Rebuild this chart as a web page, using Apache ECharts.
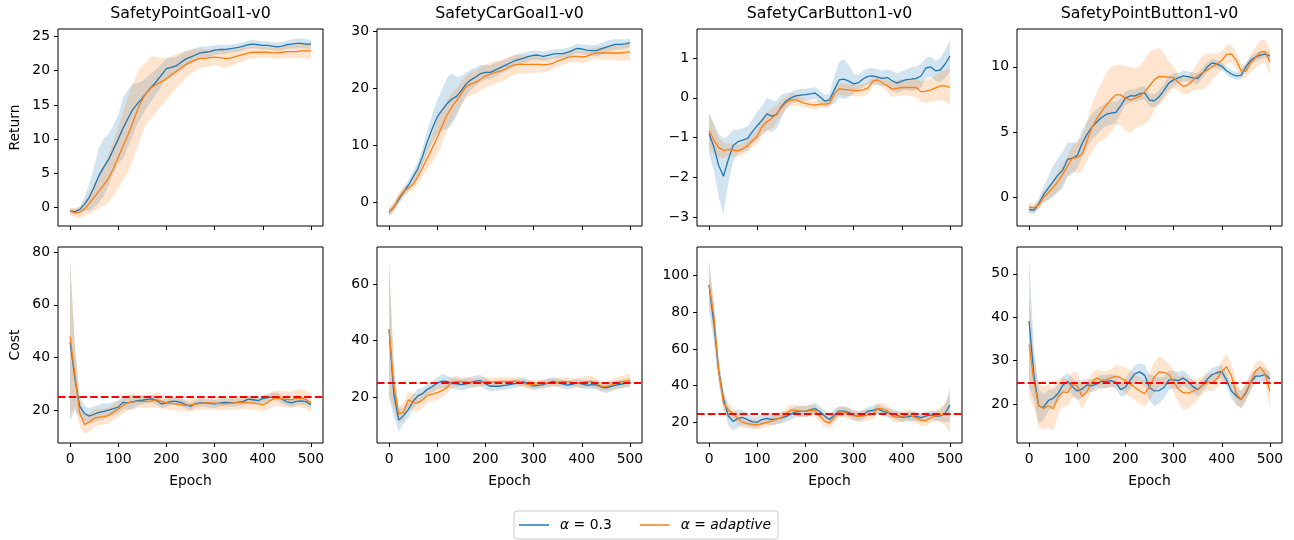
<!DOCTYPE html>
<html lang="en">

<head>
    <meta charset="UTF-8">
    <title>Safety Gym alpha comparison</title>
    <script src="https://cdn.jsdelivr.net/npm/echarts@6.0.0/dist/echarts.min.js"></script>
    <style>
        body { margin: 0; background: #fff; }
    </style>
</head>

<body>
    <div id="chart" style="width: 1294px; height: 540px;"></div>
    <script>
        // epochs sampled every 10
        const epochs = [0, 10, 20, 30, 40, 50, 60, 70, 80, 90, 100, 110, 120, 130, 140, 150, 160, 170, 180, 190,
            200, 210, 220, 230, 240, 250, 260, 270, 280, 290, 300, 310, 320, 330, 340, 350, 360, 370, 380, 390,
            400, 410, 420, 430, 440, 450, 460, 470, 480, 490, 500];
        const titles = ['SafetyPointGoal1-v0', 'SafetyCarGoal1-v0', 'SafetyCarButton1-v0', 'SafetyPointButton1-v0'];
        const xTicks = [0, 100, 200, 300, 400, 500];
        const costLimit = 25;

        // SafetyPointGoal1 - return
        const pgRet03 = [-0.5, -0.6, -0.3, 0.5, 1.5, 3.0, 4.7, 5.9, 7.0, 8.5,
            10.0, 11.6, 13.0, 14.3, 15.2, 16.0, 16.9, 17.7, 18.5, 19.4,
            20.3, 20.5, 20.7, 21.2, 21.7, 22.0, 22.3, 22.6, 22.7, 22.8,
            23.0, 23.1, 23.1, 23.2, 23.3, 23.4, 23.6, 23.8, 23.9, 23.8,
            23.7, 23.7, 23.6, 23.5, 23.6, 23.8, 23.9, 24.0, 24.0, 23.9, 23.9];
        const pgRetSd03 = [0.3, 0.3, 0.4, 1.0, 2.0, 3.0, 4.0, 4.2, 3.8, 3.5,
            3.5, 4.5, 4.2, 3.8, 3.0, 2.5, 2.2, 2.0, 1.8, 1.6,
            1.5, 1.4, 1.3, 1.2, 1.1, 1.0, 1.0, 0.9, 0.8, 0.8,
            0.7, 0.7, 0.7, 0.6, 0.6, 0.6, 0.6, 0.6, 0.6, 0.6,
            0.6, 0.6, 0.6, 0.6, 0.6, 0.6, 0.7, 0.7, 0.7, 0.7, 0.7];
        const pgRetAd = [-0.5, -0.8, -0.7, -0.2, 0.6, 1.5, 2.4, 3.3, 4.3, 5.7,
            7.3, 9.0, 10.6, 12.4, 14.3, 15.8, 16.9, 17.6, 18.0, 18.4,
            18.8, 19.4, 19.9, 20.4, 20.9, 21.3, 21.6, 21.8, 21.8, 21.9,
            22.0, 21.9, 21.8, 21.8, 22.0, 22.2, 22.4, 22.6, 22.7, 22.7,
            22.7, 22.7, 22.6, 22.6, 22.7, 22.8, 22.8, 22.8, 22.9, 22.9, 22.9];
        const pgRetSdAd = [0.5, 0.7, 0.8, 1.0, 1.5, 2.0, 2.5, 3.0, 3.5, 4.0,
            4.5, 5.0, 5.5, 5.5, 5.5, 5.0, 4.5, 4.5, 4.0, 3.5,
            3.0, 2.8, 2.5, 2.3, 2.0, 1.8, 1.6, 1.4, 1.3, 1.2,
            1.2, 1.3, 1.4, 1.3, 1.1, 1.0, 1.0, 0.9, 0.9, 0.8,
            0.8, 0.8, 0.8, 0.9, 0.9, 0.9, 0.9, 1.0, 1.0, 1.1, 1.2];

        // SafetyCarGoal1 - return
        const cgRet03 = [-1.7, -0.8, 0.5, 1.8, 3.0, 4.5, 6.0, 8.2, 10.8, 13.0,
            15.0, 16.2, 17.3, 18.1, 18.6, 19.6, 20.8, 21.5, 22.0, 22.6,
            22.8, 22.8, 23.2, 23.6, 24.0, 24.4, 24.8, 25.1, 25.3, 25.6,
            25.8, 25.8, 25.6, 25.8, 26.0, 26.1, 26.1, 26.3, 26.6, 27.0,
            26.9, 26.7, 26.6, 26.6, 26.9, 27.2, 27.5, 27.7, 27.7, 27.8, 28.0];
        const cgRetSd03 = [0.6, 0.7, 0.8, 0.8, 0.9, 1.0, 1.2, 1.5, 2.0, 2.5,
            3.0, 3.5, 4.5, 4.5, 3.5, 2.5, 2.0, 1.8, 1.6, 1.5,
            1.3, 1.2, 1.2, 1.1, 1.0, 1.0, 1.0, 1.0, 0.9, 0.9,
            0.8, 0.8, 0.8, 0.8, 0.8, 0.8, 0.8, 0.8, 0.8, 0.8,
            0.8, 0.9, 0.9, 1.0, 1.0, 1.0, 1.0, 0.9, 0.9, 0.8, 0.8];
        const cgRetAd = [-1.7, -0.8, 0.8, 1.9, 2.5, 3.2, 4.6, 6.2, 7.9, 9.6,
            11.4, 13.4, 15.3, 16.7, 17.8, 19.1, 20.3, 20.8, 21.1, 21.6,
            22.2, 22.5, 22.8, 23.0, 23.3, 23.8, 24.1, 24.2, 24.2, 24.2,
            24.2, 24.2, 24.1, 24.2, 24.4, 24.8, 25.1, 25.4, 25.6, 25.6,
            25.5, 25.6, 26.0, 26.2, 26.2, 26.2, 26.2, 26.2, 26.2, 26.3, 26.4];
        const cgRetSdAd = [0.8, 0.8, 0.8, 0.8, 0.8, 1.0, 1.2, 1.5, 2.0, 2.5,
            3.0, 3.0, 2.5, 2.5, 2.2, 2.0, 2.0, 2.0, 2.0, 2.0,
            2.0, 2.0, 2.0, 1.9, 1.9, 1.8, 1.7, 1.6, 1.6, 1.5,
            1.5, 1.4, 1.3, 1.2, 1.1, 1.0, 1.0, 1.0, 1.0, 1.0,
            1.0, 1.0, 1.0, 1.0, 1.1, 1.2, 1.2, 1.3, 1.4, 1.4, 1.5];

        // SafetyCarButton1 - return
        const cbRet03 = [-0.9, -1.23, -1.7, -1.97, -1.55, -1.2, -1.1, -1.06, -1.02, -0.85,
            -0.7, -0.56, -0.4, -0.46, -0.42, -0.22, -0.08, 0.0, 0.05, 0.07,
            0.08, 0.1, 0.12, 0.03, -0.08, -0.05, 0.2, 0.45, 0.47, 0.42,
            0.35, 0.38, 0.48, 0.54, 0.55, 0.52, 0.49, 0.51, 0.43, 0.37,
            0.42, 0.46, 0.47, 0.49, 0.55, 0.75, 0.78, 0.68, 0.7, 0.85, 1.05];
        const cbRetSd03 = [0.5, 0.6, 0.8, 0.95, 0.6, 0.4, 0.3, 0.3, 0.3, 0.3,
            0.35, 0.35, 0.4, 0.4, 0.35, 0.3, 0.2, 0.15, 0.15, 0.15,
            0.15, 0.15, 0.15, 0.15, 0.15, 0.15, 0.35, 0.45, 0.5, 0.4,
            0.25, 0.2, 0.2, 0.2, 0.2, 0.2, 0.2, 0.2, 0.25, 0.25,
            0.25, 0.25, 0.3, 0.3, 0.3, 0.25, 0.25, 0.25, 0.3, 0.35, 0.4];
        const cbRetAd = [-0.82, -1.06, -1.25, -1.32, -1.3, -1.31, -1.33, -1.28, -1.2, -1.08,
            -0.97, -0.72, -0.6, -0.52, -0.4, -0.25, -0.12, -0.05, -0.05, -0.1,
            -0.14, -0.17, -0.18, -0.16, -0.16, -0.14, 0.1, 0.23, 0.21, 0.2,
            0.19, 0.18, 0.2, 0.25, 0.42, 0.45, 0.38, 0.3, 0.22, 0.24,
            0.26, 0.26, 0.26, 0.26, 0.15, 0.17, 0.2, 0.25, 0.3, 0.3, 0.26];
        const cbRetSdAd = [0.45, 0.35, 0.25, 0.2, 0.15, 0.15, 0.15, 0.15, 0.15, 0.15,
            0.2, 0.2, 0.25, 0.25, 0.2, 0.2, 0.15, 0.15, 0.15, 0.12,
            0.1, 0.1, 0.1, 0.1, 0.1, 0.1, 0.12, 0.15, 0.15, 0.15,
            0.15, 0.15, 0.15, 0.15, 0.12, 0.1, 0.12, 0.15, 0.2, 0.2,
            0.2, 0.2, 0.22, 0.25, 0.25, 0.3, 0.3, 0.32, 0.35, 0.4, 0.45];

        // SafetyPointButton1 - return
        const pbRet03 = [-0.92, -1.0, -0.5, 0.2, 0.7, 1.2, 1.7, 2.1, 2.9, 3.0,
            3.2, 4.1, 4.8, 5.35, 5.75, 6.1, 6.35, 6.45, 6.5, 7.0,
            7.6, 7.77, 7.78, 7.95, 8.0, 7.45, 7.4, 7.7, 8.2, 8.75,
            9.0, 9.15, 9.3, 9.25, 9.15, 9.1, 9.5, 10.0, 10.3, 10.2,
            10.05, 9.7, 9.45, 9.3, 9.35, 10.0, 10.5, 10.75, 10.9, 10.97, 10.82];
        const pbRetSd03 = [0.3, 0.3, 0.4, 0.6, 0.9, 1.2, 1.3, 1.4, 1.3, 1.2,
            1.0, 1.0, 1.0, 1.0, 1.0, 0.9, 0.9, 0.9, 0.8, 0.6,
            0.5, 0.5, 0.5, 0.5, 0.5, 0.5, 0.5, 0.5, 0.5, 0.5,
            0.5, 0.4, 0.4, 0.4, 0.4, 0.4, 0.4, 0.35, 0.3, 0.3,
            0.3, 0.3, 0.3, 0.3, 0.3, 0.3, 0.3, 0.3, 0.3, 0.3, 0.3];
        const pbRetAd = [-0.77, -0.8, -0.6, 0.0, 0.35, 0.75, 1.2, 1.8, 2.4, 3.0,
            3.05, 3.3, 4.3, 5.3, 6.0, 6.55, 7.05, 7.5, 7.85, 7.85,
            7.6, 7.45, 7.6, 7.75, 8.1, 8.55, 9.0, 9.27, 9.25, 9.2,
            9.18, 8.8, 8.5, 8.62, 8.95, 9.3, 9.55, 9.75, 10.0, 10.2,
            10.5, 10.95, 11.0, 10.5, 9.7, 9.65, 10.3, 10.7, 11.15, 11.15, 10.38];
        const pbRetSdAd = [0.4, 0.3, 0.3, 0.4, 0.5, 0.6, 0.8, 0.8, 0.8, 1.0,
            1.2, 1.3, 1.5, 1.8, 2.0, 2.2, 2.5, 2.5, 2.3, 2.3,
            2.5, 2.5, 2.3, 2.3, 2.5, 2.6, 2.3, 2.2, 1.8, 1.2,
            0.8, 0.6, 0.6, 0.7, 0.8, 1.0, 1.3, 1.3, 1.0, 0.8,
            0.7, 0.7, 0.7, 0.6, 0.5, 0.5, 0.7, 0.8, 0.9, 0.9, 1.0];

        // SafetyPointGoal1 - cost
        const pgCost03 = [46, 32, 21.5, 18.8, 17.8, 18.5, 19.2, 19.6, 20.1, 20.6,
            21.2, 23.0, 22.8, 23.2, 23.7, 23.8, 24.1, 24.3, 23.7, 22.4,
            22.8, 23.4, 23.4, 23.0, 22.2, 21.5, 22.5, 22.8, 22.8, 22.6,
            22.4, 22.7, 23.0, 22.9, 22.8, 23.1, 23.4, 24.2, 24.0, 23.7,
            24.4, 24.8, 25.1, 25.2, 24.2, 23.2, 22.8, 23.4, 23.6, 23.3, 22.1];
        const pgCostSd03 = [30, 12, 4, 3, 3, 3, 3, 3, 2.5, 2.5,
            2.5, 2.5, 2.5, 2.5, 2, 1.5, 1.5, 1.5, 1.5, 1.5,
            1.5, 1.5, 1.5, 1.5, 1.5, 1.5, 1.5, 1.5, 1.5, 1.5,
            1.5, 1.5, 1.5, 1.5, 1.5, 1.5, 1.5, 1.5, 1.5, 1.5,
            1.5, 1.5, 1.5, 1.5, 1.5, 1.5, 1.5, 1.5, 1.5, 1.5, 1.5];
        const pgCostAd = [48, 33.5, 19, 14.6, 15.6, 17.0, 17.4, 17.6, 18.0, 19.3,
            20.5, 21.8, 22.9, 23.2, 23.4, 23.4, 23.4, 23.6, 24.0, 23.4,
            22.8, 22.6, 22.4, 22.2, 21.9, 22.0, 22.3, 22.6, 22.8, 22.8,
            22.7, 22.5, 22.4, 22.6, 22.8, 22.9, 23.0, 22.9, 22.8, 22.4,
            22.1, 23.0, 24.2, 24.6, 24.3, 24.1, 24.0, 24.5, 24.6, 24.0, 22.8];
        const pgCostSdAd = [30, 12, 5, 3.5, 3.5, 3.5, 3, 3, 3, 3,
            3, 3, 3, 3, 2.5, 2.5, 2.5, 2.5, 3, 2.8,
            2.5, 2.5, 2.5, 2.5, 2.5, 2.5, 2.5, 2.5, 2.5, 2.5,
            2.5, 2.5, 2.5, 2.5, 2.5, 2.5, 2.5, 2.5, 2.5, 2.5,
            2.5, 2.8, 3, 3, 3, 3, 3, 3.2, 3.5, 3.5, 3.5];

        // SafetyCarGoal1 - cost
        const cgCost03 = [44, 21, 11.8, 13.4, 15.5, 18.5, 20.4, 21.2, 22.8, 23.7,
            24.9, 25.6, 25.5, 24.8, 24.6, 24.4, 24.6, 25.2, 25.6, 25.8,
            24.7, 23.8, 23.8, 23.8, 24.1, 24.4, 24.7, 25.0, 25.4, 24.6,
            23.8, 24.1, 24.4, 25.0, 25.5, 25.1, 24.6, 24.2, 24.5, 25.0,
            24.6, 24.2, 24.3, 24.4, 23.6, 23.2, 23.7, 24.2, 24.5, 24.8, 25.3];
        const cgCostSd03 = [24, 8, 4, 3, 3, 2.5, 2.5, 2, 2, 2,
            2, 2.5, 2, 2, 2, 2, 2, 2, 2, 2,
            2, 1.8, 1.6, 1.5, 1.5, 1.5, 1.5, 1.5, 1.5, 1.5,
            1.5, 1.5, 1.5, 1.5, 1.5, 1.5, 1.5, 1.5, 1.5, 1.5,
            1.5, 1.5, 1.5, 1.6, 1.8, 1.8, 1.8, 1.6, 1.5, 1.5, 1.5];
        const cgCostAd = [44, 24, 14.0, 14.5, 19.0, 18.0, 17.9, 19.0, 20.6, 21.0,
            21.5, 22.3, 23.3, 25.2, 25.5, 25.5, 25.3, 25.1, 25.0, 25.2,
            25.5, 25.3, 25.4, 25.5, 25.5, 25.5, 25.6, 25.5, 24.8, 24.4,
            24.5, 24.6, 24.8, 25.0, 25.0, 25.2, 25.5, 25.4, 25.2, 25.0,
            25.2, 25.4, 25.5, 24.8, 23.8, 23.7, 24.2, 24.8, 25.3, 25.6, 25.8];
        const cgCostSdAd = [24, 8, 3, 3, 3, 3, 3, 3, 2.5, 2.5,
            2.5, 2.5, 2, 2, 2, 1.5, 1.5, 1.5, 1.5, 1.5,
            1.5, 1.5, 1.5, 1.5, 1.5, 1.5, 1.5, 1.5, 1.5, 1.5,
            1.5, 1.5, 1.5, 1.5, 1.5, 1.5, 1.5, 1.5, 1.5, 1.5,
            2, 2, 2, 1.8, 1.5, 1.5, 1.8, 2, 2, 2.2, 2.5];

        // SafetyCarButton1 - cost
        const cbCost03 = [95, 74, 48, 33, 23.5, 20.6, 22.2, 22.7, 21.5, 20.3,
            20.2, 21.6, 22.2, 21.5, 21.9, 22.5, 23.3, 24.5, 25.8, 26.0,
            26.0, 26.8, 27.6, 26.0, 23.5, 21.6, 24.0, 26.2, 26.2, 25.5,
            24.0, 23.3, 24.2, 26.2, 26.5, 27.5, 26.2, 25.4, 24.8, 24.0,
            22.8, 23.0, 23.3, 23.3, 22.6, 23.4, 24.1, 23.4, 23.6, 25.0, 29.6];
        const cbCostSd03 = [14, 10, 6, 5, 5, 5, 5, 4, 3.5, 3,
            3, 3, 3, 3, 3, 3, 3, 3, 3, 3,
            3, 3, 3, 3, 3, 3, 3, 2.5, 2.5, 2.5,
            2.5, 2.5, 2.5, 2.5, 2.5, 2.5, 2.5, 2.5, 2.5, 2.5,
            2.5, 2.5, 2.5, 2.5, 2.5, 2.5, 2.5, 2.5, 3, 5, 9];
        const cbCostAd = [95, 78, 48, 30.5, 26.8, 24.8, 22.0, 20.0, 19.3, 19.0,
            18.7, 19.4, 20.0, 20.7, 21.9, 22.8, 24.8, 26.8, 26.5, 26.2,
            26.0, 26.4, 26.5, 23.3, 20.6, 19.8, 22.8, 25.8, 25.6, 25.0,
            23.7, 23.3, 23.6, 24.2, 24.5, 27.6, 27.4, 26.5, 23.6, 22.8,
            23.2, 24.2, 23.6, 22.4, 21.3, 20.9, 22.6, 23.6, 24.2, 24.4, 24.5];
        const cbCostSdAd = [10, 8, 6, 5, 4, 3, 3, 3, 2.5, 2.5,
            2.5, 2.5, 2.5, 2.5, 2.8, 3, 3, 3, 3, 3,
            3, 3, 3, 3, 3, 3, 3, 3, 3, 3,
            3, 3, 3, 3, 3, 3, 3, 3, 3, 3,
            3, 3, 3, 3, 3, 3, 3, 3, 4, 6, 10];

        // SafetyPointButton1 - cost
        const pbCost03 = [39.1, 26.8, 19.5, 19.2, 20.8, 21.3, 22.4, 24.3, 25.2, 24.0,
            23.0, 23.4, 24.4, 24.2, 24.6, 25.2, 25.2, 25.4, 25.0, 23.3,
            23.9, 25.5, 27.0, 27.4, 26.6, 23.8, 23.0, 23.1, 23.8, 25.5,
            25.6, 25.4, 26.0, 25.2, 24.0, 23.3, 24.3, 25.7, 26.8, 27.2,
            27.5, 25.5, 23.0, 21.9, 21.0, 22.5, 25.0, 26.4, 26.4, 26.8, 25.8];
        const pbCostSd03 = [15, 6, 4, 3, 2.5, 2, 2, 2, 2, 2,
            2, 2, 1.5, 1.5, 1.5, 1.5, 1.5, 1.5, 1.5, 1.5,
            2, 2, 2, 2, 2.5, 3, 3.5, 3, 2.5, 2.2,
            2, 2, 1.8, 1.6, 1.5, 1.5, 1.5, 1.5, 1.5, 1.5,
            1.5, 1.5, 1.8, 2, 2, 2, 1.8, 1.5, 1.5, 1.5, 1.5];
        const pbCostAd = [33.7, 25.2, 19.6, 19.0, 19.6, 18.9, 21.6, 22.8, 22.6, 24.5,
            24.2, 21.8, 22.8, 25.0, 26.0, 25.5, 25.6, 26.0, 26.4, 26.0,
            25.4, 24.6, 23.8, 23.0, 22.4, 24.0, 26.2, 27.4, 27.3, 26.8,
            25.2, 23.4, 22.6, 22.5, 22.9, 23.4, 24.3, 25.1, 24.9, 25.8,
            27.5, 28.6, 26.5, 22.4, 21.0, 22.8, 25.0, 27.6, 28.5, 27.0, 22.9];
        const pbCostSdAd = [12, 6, 5, 5, 5, 5, 4, 3.5, 3, 3,
            3, 3, 2, 2, 2, 2, 2, 2, 2.5, 2.8,
            3, 3, 3, 3, 3, 3.2, 3.5, 3.5, 3, 2.5,
            2.5, 3, 4, 3.5, 3, 2.5, 2, 2, 2, 2,
            2.5, 3, 3, 2.5, 2, 2, 2, 2, 1.5, 2, 4];

        // y tick labels for each panel
        const pgRetTicks = [0, 5, 10, 15, 20, 25];
        const cgRetTicks = [0, 10, 20, 30];
        const cbRetTicks = [-3, -2, -1, 0, 1];
        const pbRetTicks = [0, 5, 10];
        const pgCostTicks = [20, 40, 60, 80];
        const cgCostTicks = [20, 40, 60];
        const cbCostTicks = [20, 40, 60, 80, 100];
        const pbCostTicks = [20, 30, 40, 50];

        const panels = [
            { a: pgRet03, sa: pgRetSd03, b: pgRetAd, sb: pgRetSdAd, min: -2.7, max: 26.1, ticks: pgRetTicks },
            { a: cgRet03, sa: cgRetSd03, b: cgRetAd, sb: cgRetSdAd, min: -4.1, max: 30.4, ticks: cgRetTicks },
            { a: cbRet03, sa: cbRetSd03, b: cbRetAd, sb: cbRetSdAd, min: -3.22, max: 1.73, ticks: cbRetTicks },
            { a: pbRet03, sa: pbRetSd03, b: pbRetAd, sb: pbRetSdAd, min: -2.2, max: 12.9, ticks: pbRetTicks },
            { a: pgCost03, sa: pgCostSd03, b: pgCostAd, sb: pgCostSdAd, min: 7.6, max: 81.9, ticks: pgCostTicks },
            { a: cgCost03, sa: cgCostSd03, b: cgCostAd, sb: cgCostSdAd, min: 3.7, max: 73.1, ticks: cgCostTicks },
            { a: cbCost03, sa: cbCostSd03, b: cbCostAd, sb: cbCostSdAd, min: 8.8, max: 115.6, ticks: cbCostTicks },
            { a: pbCost03, sa: pbCostSd03, b: pbCostAd, sb: pbCostSdAd, min: 11, max: 56.2, ticks: pbCostTicks }
        ];

        const BLUE = '#1f77b4';
        const ORANGE = '#ff7f0e';
        const FONT = 'DejaVu Sans';
        const FS = 13.9;
        const lefts = [58, 377, 697, 1017];
        const gridW = 265;

        const grids = [], xAxes = [], yAxes = [], series = [], graphics = [];

        // shaded band (mean +- spread) as one polygon, placed through the axes
        function bandSeries(i, mean, sd, color) {
            const rows = epochs.map((e, k) => [e, mean[k] - sd[k], mean[k] + sd[k]]);
            return {
                type: 'custom', xAxisIndex: i, yAxisIndex: i, silent: true, clip: true,
                data: rows,
                encode: { x: 0, y: [1, 2] },
                renderItem: (params, api) => {
                    if (params.dataIndex !== 0) return null;
                    const upper = rows.map(r => api.coord([r[0], r[2]]));
                    const lower = rows.map(r => api.coord([r[0], r[1]])).reverse();
                    return {
                        type: 'polygon',
                        shape: { points: upper.concat(lower) },
                        style: { fill: color }
                    };
                }
            };
        }

        panels.forEach((p, i) => {
            const row = i < 4 ? 0 : 1;
            const col = i % 4;
            grids.push({
                left: lefts[col], width: gridW, top: row === 0 ? 29 : 247, height: row === 0 ? 197 : 196,
                show: true, borderColor: '#000', borderWidth: 1
            });
            xAxes.push({
                type: 'value', gridIndex: i, min: -25, max: 525,
                splitLine: { show: false }, axisLine: { show: false, onZero: false },
                axisTick: { customValues: xTicks, length: 4, lineStyle: { color: '#000' } },
                axisLabel: {
                    show: row === 1, customValues: xTicks, margin: 9,
                    fontSize: FS, fontFamily: FONT, color: '#000'
                },
                name: row === 1 ? 'Epoch' : '', nameLocation: 'middle', nameGap: 31,
                nameTextStyle: { fontSize: FS, fontFamily: FONT, color: '#000' }
            });
            yAxes.push({
                type: 'value', gridIndex: i, min: p.min, max: p.max,
                splitLine: { show: false }, axisLine: { show: false, onZero: false },
                axisTick: { customValues: p.ticks, length: 4, lineStyle: { color: '#000' } },
                axisLabel: {
                    customValues: p.ticks, margin: 8, fontSize: FS, fontFamily: FONT, color: '#000',
                    formatter: v => String(v).replace('-', '\u2212')
                },
                name: col === 0 ? (row === 0 ? 'Return' : 'Cost') : '', nameLocation: 'middle', nameGap: 36,
                nameTextStyle: { fontSize: FS, fontFamily: FONT, color: '#000' }
            });

            series.push(bandSeries(i, p.a, p.sa, 'rgba(31,119,180,0.2)'));
            series.push({
                type: 'line', name: 'a03', xAxisIndex: i, yAxisIndex: i, symbol: 'none',
                data: epochs.map((e, k) => [e, p.a[k]]),
                lineStyle: { color: BLUE, width: 1.3 }, itemStyle: { color: BLUE }
            });
            series.push(bandSeries(i, p.b, p.sb, 'rgba(255,127,14,0.2)'));
            const orange = {
                type: 'line', name: 'adaptive', xAxisIndex: i, yAxisIndex: i, symbol: 'none',
                data: epochs.map((e, k) => [e, p.b[k]]),
                lineStyle: { color: ORANGE, width: 1.3 }, itemStyle: { color: ORANGE }
            };
            if (row === 1) {
                orange.markLine = {
                    symbol: 'none', silent: true, label: { show: false }, animation: false,
                    lineStyle: { color: '#ff0000', type: [7.5, 3.2], width: 2 },
                    data: [{ yAxis: costLimit }]
                };
            }
            series.push(orange);

            if (row === 0) {
                graphics.push({
                    type: 'text', x: lefts[col] + gridW / 2, y: 6,
                    style: { text: titles[col], fontSize: 15.8, fontFamily: FONT, fill: '#000', textAlign: 'center' }
                });
            }
        });

        const chart = echarts.init(document.getElementById('chart'));
        chart.setOption({
            animation: false,
            backgroundColor: '#fff',
            grid: grids,
            xAxis: xAxes,
            yAxis: yAxes,
            graphic: graphics,
            legend: {
                data: ['a03', 'adaptive'],
                left: 514, top: 511,
                icon: 'rect', itemWidth: 30, itemHeight: 1.5, itemGap: 28,
                borderColor: '#cccccc', borderWidth: 1, borderRadius: 3,
                padding: [7, 7, 7, 5],
                textStyle: {
                    fontSize: FS, fontFamily: FONT, color: '#000', padding: [0, 0, 0, 6],
                    rich: {
                        it: { fontStyle: 'italic', fontSize: FS, fontFamily: FONT, color: '#000' }
                    }
                },
                formatter: name => name === 'a03' ? '{it|\u03b1} = 0.3' : '{it|\u03b1} = {it|adaptive}'
            },
            series: series
        });
    </script>
</body>

</html>
